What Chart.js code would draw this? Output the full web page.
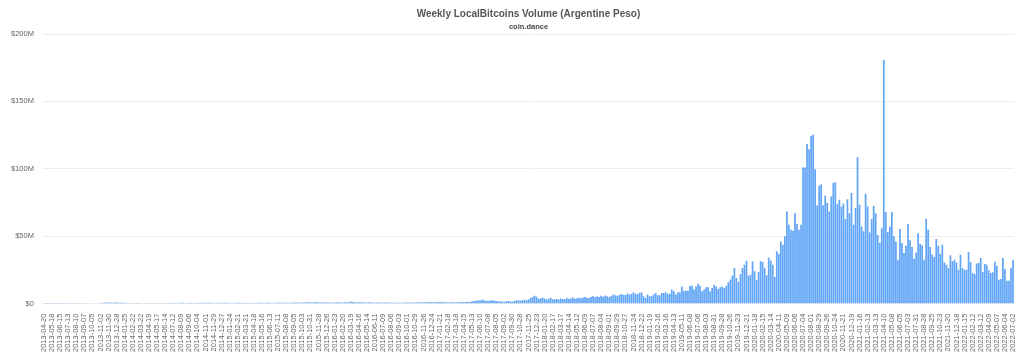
<!DOCTYPE html>
<html>
<head>
<meta charset="utf-8">
<script src="https://cdn.jsdelivr.net/npm/chart.js@4/dist/chart.umd.min.js"></script>
<style>
html,body{margin:0;padding:0;background:#fff;}
#wrap{width:1024px;height:356px;position:relative;}
</style>
</head>
<body>
<div id="wrap"><canvas id="c"></canvas></div>
<script>
const startDate = '2013-04-20';
const labelEvery = 4;
const yTicks = [0, 50, 100, 150, 200];

// Weekly volume, millions of ARS
const vol2013 = [0.05,0.05,0.1,0.05,0.1,0.1,0.05,0.1,0.1,0.15,0.1,0.1,0.15,0.1,0.2,0.15,0.1,0.2,0.2,0.15,0.2,0.25,0.2,0.2,0.3,0.25,0.3,0.3,
  0.5,0.6,0.8,0.7,0.9,0.8,0.7,0.9,0.8,0.7,0.6,0.7,0.6];
const vol2014 = [0.4,0.5,0.4,0.3,0.4,0.5,0.4,0.3,0.3,0.4,
  0.5,0.4,0.3,0.4,0.3,0.4,0.5,0.4,0.4,0.3,
  0.4,0.5,0.6,0.5,0.4,0.4,0.5,0.6,0.7,0.5,
  0.4,0.5,0.6,0.5,0.4,0.5,0.6,0.7,0.6,0.5,
  0.6,0.7,0.6,0.5,0.4,0.5,0.6,0.5,0.6,0.7,
  0.6,0.5,0.4,0.5,0.6,0.7,0.6,0.5,0.6,0.5];
const vol2015 = [0.5,0.6,0.5,0.4,0.5,0.6,0.7,0.6,0.5,0.6,
  0.7,0.6,0.5,0.6,0.7,0.8,0.7,0.6,0.7,0.8,
  0.7,0.6,0.7,0.8,0.9,0.8,0.7,0.8,0.9,1.0,
  1.1,1.0,0.9,1.0,1.2,1.0,0.9,0.8,0.9,1.0,
  0.9,0.8,0.7,0.9,1.0,0.9,0.8,0.9,1.0,1.1];
const vol2016 = [1.0,1.6,1.2,1.0,0.9,1.0,1.1,0.9,0.8,0.9,
  1.0,0.9,0.8,0.7,0.8,0.9,0.8,0.7,0.8,0.9,
  0.8,0.7,0.6,0.7,0.8,0.7,0.6,0.7,0.8,0.9,
  0.8,0.7,0.8,0.9,1.0,0.9,1.0,1.1,1.0,1.1];
const vol2017 = [1.2,1.1,1.0,1.1,1.2,1.3,1.2,1.1,1.0,0.9,
  1.0,1.1,1.0,0.9,1.0,1.1,1.2,1.1,1.3,1.4,
  1.3,1.6,2.0,2.2,2.5,2.3,2.8,2.5,2.2,2.0,
  2.4,2.6,2.3,2.0,1.8,1.6,
  1.5,1.3,1.8,2.0,1.6,1.4,
  2.0,2.3,2.6,2.2,2.5,2.8,2.6,3.0,
  4.2,5.0,5.8,5.2];
const vol2018 = [3.6,4.0,4.4,3.8,3.0,3.6,4.4,3.2,
  3.2,3.4,3.0,3.8,3.4,3.2,4.2,3.6,3.8,4.6,3.6,4.0,
  4.4,4.0,4.6,5.0,4.4,4.2,5.2,5.6,4.8,5.4,5.0,5.8,5.2,6.0,5.4,4.8,
  5.6,6.8,6.2,5.8,6.4,7.2,6.6,6.4,7.6,6.8,
  7.2,8.4,7.4,7.0,7.8,8.5];
const vol2019 = [5.4,4.2,6.7,5.4,5.4,6.7,7.9,6.2,6.2,
  7.9,7.9,8.4,7.4,7.4,10.4,9.1,6.7,8.4,8.4,
  12.8,9.6,9.6,9.6,13.3,13.3,10.4,12.8,14.8,13.3,
  9.1,10.4,12.1,12.1,9.1,11.6,14.1,12.8,10.9,12.1,
  12.8,11.6,13.3,15.8,17.8,20.7,26.4,19.0,16.0,22.0,
  26.4,28.9,31.9,20.7];
const vol2020 = [21.5,31.4,24.0,17.8,23.5,31.4,
  30.8,26.6,21.0,34.0,32.0,28.8,19.7,
  38.8,37.0,46.0,43.7,50.0,68.4,58.5,54.8,54.0,67.0,
  59.0,54.8,58.5,101,101,118.5,114.6,124.4,125.5,99.7,
  72.8,87.4,88.6,73.0,80.0,74.6,68.4,79.5,89.4,90.0,
  73.8,77.0,72.0,74.0,62.7,77.5,67.0,82.0,58.5,70.9];
const vol2021 = [108.6,73.3,57.3,53.6,81.5,72.0,52.8,62.7,72.6,67.0,
  51.0,45.0,56.0,180.7,
  68.0,53.0,57.3,68.0,50.0,46.0,32.6,55.3,45.0,37.5,
  43.0,59.0,47.0,42.0,33.3,38.0,52.3,44.4,43.2,32.6,
  63.0,54.8,42.0,36.3,34.6,47.9,43.0,37.0,43.7,30.6,
  28.9,26.4,35.8,31.4,32.6,30.6,25.2,36.3];
const vol2022 = [26.4,25.2,
  25.2,38.3,30.9,22.7,22.0,29.6,30.1,33.8,23.5,29.4,
  28.9,24.7,22.7,23.2,31.1,28.1,17.8,18.3,33.8,25.7,
  17.0,17.0,26.2,32.6];

const values = [].concat(vol2013, vol2014, vol2015, vol2016, vol2017, vol2018, vol2019, vol2020, vol2021, vol2022);

const categories = [];
{
  const d0 = new Date(startDate + 'T00:00:00Z');
  for (let i = 0; i < values.length; i++) {
    const d = new Date(d0.getTime() + i * 7 * 86400000);
    categories.push(d.toISOString().slice(0, 10));
  }
}

const FONT = "'Liberation Sans', Arial, sans-serif";

// centre title and subtitle over the plot area
const centerTitles = {
  id: 'centerTitles',
  afterLayout(chart) {
    const a = chart.chartArea;
    chart.boxes.forEach(b => {
      if (b.options && b.options.text !== undefined && (b.position === 'top')) {
        b.left = a.left; b.right = a.right; b.width = a.right - a.left;
      }
    });
  }
};

new Chart(document.getElementById('c'), {
  type: 'bar',
  data: {
    labels: categories,
    datasets: [{
      data: values.map(v => v * 1e6),
      backgroundColor: 'rgba(88,160,245,0.95)',
      borderWidth: 0,
      barPercentage: 0.85,
      categoryPercentage: 1.0
    }]
  },
  plugins: [centerTitles],
  options: {
    responsive: true,
    maintainAspectRatio: false,
    animation: false,
    layout: { padding: { top: 3, right: 9, bottom: 2, left: 2 } },
    plugins: {
      legend: { display: false },
      tooltip: { enabled: false },
      title: {
        display: true,
        text: 'Weekly LocalBitcoins Volume (Argentine Peso)',
        color: '#555',
        font: { family: FONT, size: 10, weight: 'bold' },
        padding: { top: 5, bottom: 2 }
      },
      subtitle: {
        display: true,
        text: 'coin.dance',
        color: '#444',
        font: { family: FONT, size: 7.5, weight: 'bold' },
        padding: { top: 0, bottom: 3 }
      }
    },
    scales: {
      x: {
        grid: { display: false },
        border: { display: false },
        ticks: {
          autoSkip: false,
          minRotation: 90,
          maxRotation: 90,
          color: '#666',
          padding: 2,
          font: { family: FONT, size: 7.5 },
          callback: function(val, idx) {
            return idx % labelEvery === 0 ? categories[idx] : null;
          }
        }
      },
      y: {
        min: 0,
        max: 200e6,
        afterBuildTicks: function(axis) {
          axis.ticks = yTicks.map(v => ({ value: v * 1e6 }));
        },
        grid: { color: '#ececec', drawTicks: false },
        border: { display: false },
        ticks: {
          color: '#666',
          padding: 9,
          font: { family: FONT, size: 7.5 },
          callback: function(v) {
            return v === 0 ? '$0' : '$' + (v / 1e6) + 'M';
          }
        }
      }
    }
  }
});
</script>
</body>
</html>
